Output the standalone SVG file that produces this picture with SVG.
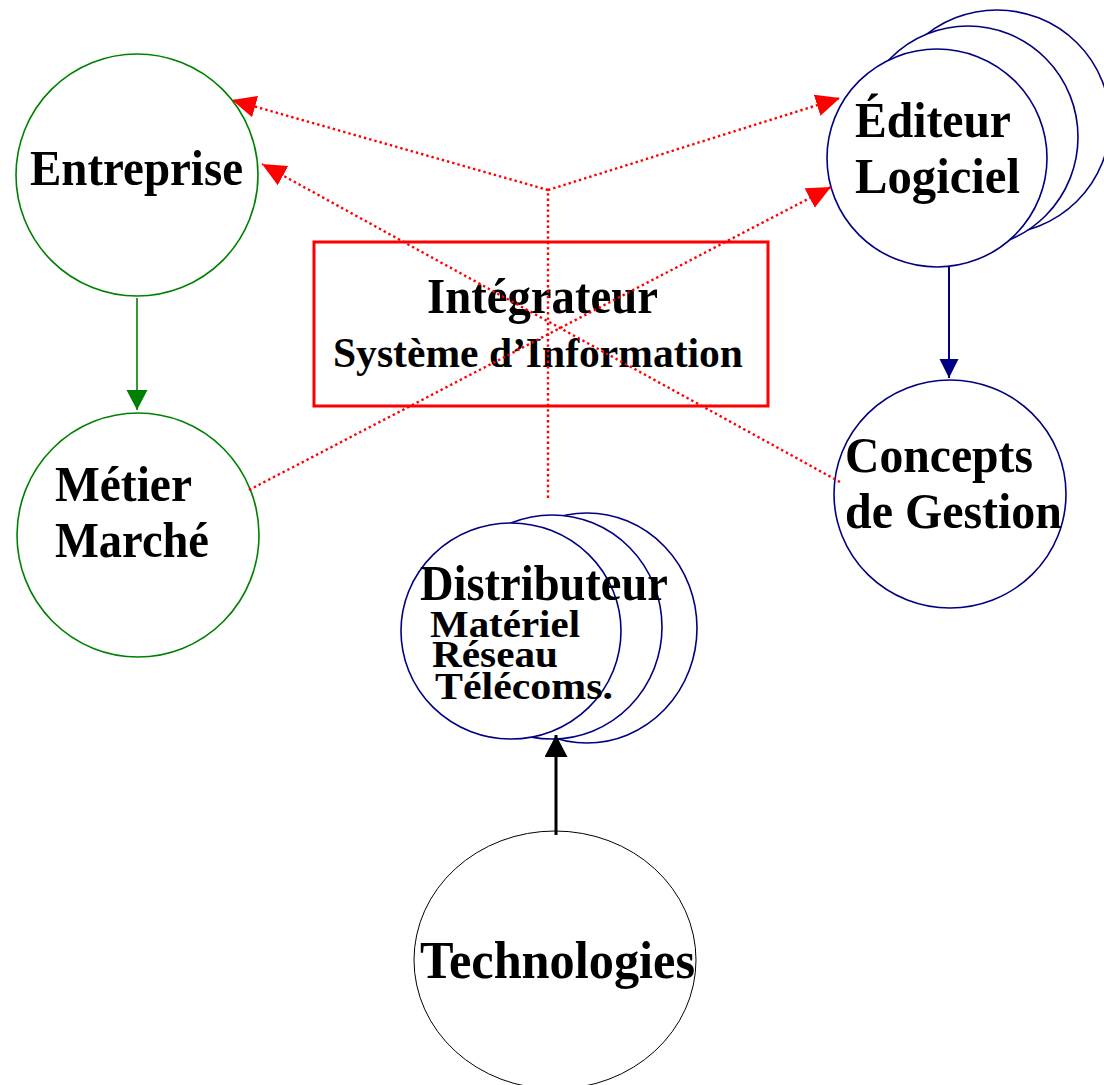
<svg xmlns="http://www.w3.org/2000/svg" width="1104" height="1085" viewBox="0 0 1104 1085">
<style>
.t{font-family:"Liberation Serif","Times New Roman",serif;font-weight:bold;fill:#000;}
.g{fill:#fff;stroke:#008000;stroke-width:1.6;}
.n{fill:#fff;stroke:#000080;stroke-width:1.6;}
.k{fill:#fff;stroke:#000;stroke-width:1;}
.dot{stroke:#ff0000;stroke-width:2.4;stroke-dasharray:2.4 3;fill:none;}
</style>
<defs>
<marker id="ar" markerUnits="userSpaceOnUse" markerWidth="26" markerHeight="24" refX="24" refY="11" orient="auto"><path d="M0,0 L24,11 L0,22 z" fill="#ff0000"/></marker>
<marker id="ag" markerUnits="userSpaceOnUse" markerWidth="22" markerHeight="22" refX="20" refY="10.5" orient="auto"><path d="M0,0 L20,10.5 L0,21 z" fill="#008000"/></marker>
<marker id="an" markerUnits="userSpaceOnUse" markerWidth="22" markerHeight="22" refX="19" refY="9.5" orient="auto"><path d="M0,0 L19,9.5 L0,19 z" fill="#000080"/></marker>
<marker id="ak" markerUnits="userSpaceOnUse" markerWidth="24" markerHeight="24" refX="22" refY="11.5" orient="auto"><path d="M0,0 L22,11.5 L0,23 z" fill="#000"/></marker>
</defs>
<rect width="1104" height="1085" fill="#fff"/>

<g id="entreprise">
<circle class="g" cx="137" cy="175" r="121"/>
<text class="t" x="30" y="185" font-size="50" textLength="213" lengthAdjust="spacingAndGlyphs">Entreprise</text>
</g>

<g id="metier">
<ellipse class="g" cx="138" cy="535" rx="121" ry="122"/>
<text class="t" x="55" y="501" font-size="50" textLength="137" lengthAdjust="spacingAndGlyphs">Métier</text>
<text class="t" x="55" y="557" font-size="50" textLength="154" lengthAdjust="spacingAndGlyphs">Marché</text>
</g>

<g id="editeur">
<ellipse class="n" cx="997" cy="122" rx="113" ry="112"/>
<ellipse class="n" cx="968" cy="137" rx="110" ry="111"/>
<ellipse class="n" cx="937" cy="158" rx="110" ry="109"/>
<text class="t" x="855" y="137" font-size="50" textLength="156" lengthAdjust="spacingAndGlyphs">Éditeur</text>
<text class="t" x="855" y="193" font-size="50" textLength="165" lengthAdjust="spacingAndGlyphs">Logiciel</text>
</g>

<g id="concepts">
<ellipse class="n" cx="950" cy="494" rx="116" ry="114"/>
<text class="t" x="845" y="472" font-size="50" textLength="188" lengthAdjust="spacingAndGlyphs">Concepts</text>
<text class="t" x="845" y="528" font-size="50" textLength="217" lengthAdjust="spacingAndGlyphs">de Gestion</text>
</g>

<g id="integrateur">
<rect x="314" y="242" width="454" height="164" fill="#fff" stroke="#ff0000" stroke-width="3"/>
<text class="t" x="427" y="313" font-size="50" textLength="231" lengthAdjust="spacingAndGlyphs">Intégrateur</text>
<text class="t" x="333" y="367" font-size="43" textLength="410" lengthAdjust="spacingAndGlyphs">Système d’Information</text>
</g>

<g id="distributeur">
<ellipse class="n" cx="587" cy="628" rx="110" ry="115"/>
<ellipse class="n" cx="552" cy="627" rx="110" ry="112"/>
<ellipse class="n" cx="511" cy="631" rx="110" ry="108"/>
<text class="t" x="420" y="600" font-size="50" textLength="248" lengthAdjust="spacingAndGlyphs">Distributeur</text>
<text class="t" x="430" y="637" font-size="38" textLength="150" lengthAdjust="spacingAndGlyphs">Matériel</text>
<text class="t" x="432" y="667" font-size="38" textLength="126" lengthAdjust="spacingAndGlyphs">Réseau</text>
<text class="t" x="435" y="699" font-size="38" textLength="178" lengthAdjust="spacingAndGlyphs">Télécoms.</text>
</g>

<g id="technologies">
<ellipse class="k" cx="555" cy="960" rx="141" ry="129"/>
<text class="t" x="420" y="978" font-size="52" textLength="275" lengthAdjust="spacingAndGlyphs">Technologies</text>
</g>

<g id="connectors">
<line class="dot" x1="548" y1="498" x2="548" y2="190"/>
<line class="dot" x1="548" y1="190" x2="232" y2="100" marker-end="url(#ar)"/>
<line class="dot" x1="548" y1="190" x2="840" y2="98" marker-end="url(#ar)"/>
<line class="dot" x1="840" y1="482" x2="262" y2="164" marker-end="url(#ar)"/>
<line class="dot" x1="249" y1="490" x2="831" y2="187" marker-end="url(#ar)"/>
<line x1="137" y1="298" x2="137" y2="410" stroke="#008000" stroke-width="1.6" marker-end="url(#ag)"/>
<line x1="949" y1="267" x2="949" y2="378" stroke="#000080" stroke-width="2" marker-end="url(#an)"/>
<line x1="556" y1="835" x2="556" y2="735" stroke="#000" stroke-width="3" marker-end="url(#ak)"/>
</g>
</svg>
